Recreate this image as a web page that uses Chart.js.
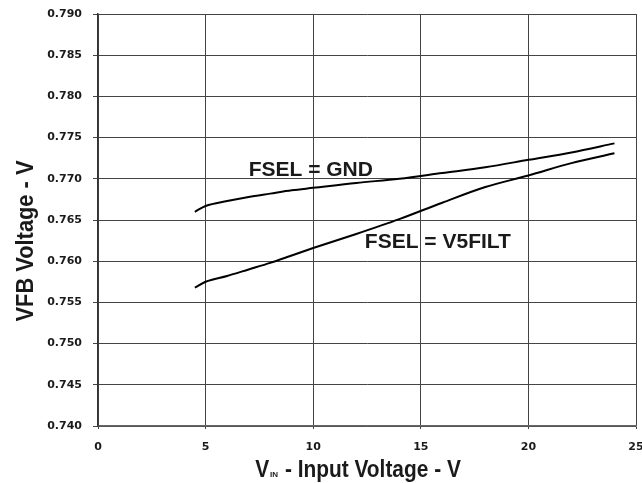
<!DOCTYPE html>
<html>
<head>
<meta charset="utf-8">
<script src="https://cdn.jsdelivr.net/npm/chart.js@4/dist/chart.umd.min.js"></script>
<style>
  html, body { margin: 0; padding: 0; background: #fff; }
  #wrap { width: 642px; height: 483px; }
</style>
</head>
<body>
<div id="wrap"><canvas id="vfbChart" width="642" height="483"></canvas></div>
<script>
// input voltage (V)
const vin = [4.5, 5, 6, 7, 8, 9, 10, 12, 14, 16, 18, 20, 22, 24];
// VFB voltage, FSEL tied to GND
const vfbGnd = [0.7660, 0.7667, 0.7673, 0.7678, 0.7682, 0.7686, 0.7689, 0.7695, 0.7700, 0.7707, 0.7714, 0.7723, 0.7732, 0.7743];
// VFB voltage, FSEL tied to V5FILT
const vfbV5 = [0.7568, 0.7575, 0.7582, 0.7590, 0.7598, 0.7607, 0.7616, 0.7633, 0.7651, 0.7671, 0.7690, 0.7704, 0.7719, 0.7731];

// curve labels, left edge / baseline in data units
const curveLabels = [
  { text: 'FSEL = GND', x: 7.0, y: 0.77034 },
  { text: 'FSEL = V5FILT', x: 12.4, y: 0.76157 }
];

const SANS = '"Liberation Sans", Arial, sans-serif';
const TICK_FONT = { family: '"DejaVu Sans", sans-serif', size: 11, weight: 'bold' };

const toPoints = (xs, ys) => xs.map((x, i) => ({ x, y: ys[i] }));

// text drawn with an optional horizontal squeeze
function squeezed(g, text, x, y, size, sx) {
  g.save();
  g.translate(x, y);
  g.scale(sx, 1);
  g.font = 'bold ' + size + 'px ' + SANS;
  g.fillText(text, 0, 0);
  const w = g.measureText(text).width * sx;
  g.restore();
  return w;
}

const annotate = {
  id: 'annotate',
  afterDraw(c) {
    const g = c.ctx;
    const xs = c.scales.x, ys = c.scales.y;
    const area = c.chartArea;
    g.save();
    g.fillStyle = '#1a1a1a';
    g.textAlign = 'left';
    g.textBaseline = 'alphabetic';

    curveLabels.forEach(l => {
      squeezed(g, l.text, xs.getPixelForValue(l.x), ys.getPixelForValue(l.y), 21, 1);
    });

    // x title: V_IN - Input Voltage - V
    const sx = 0.87, size = 24;
    const rest = ' - Input Voltage - V';
    g.font = 'bold ' + size + 'px ' + SANS;
    const wV = g.measureText('V').width * sx;
    const wRest = g.measureText(rest).width * sx;
    g.font = 'bold 8px ' + SANS;
    const wSub = g.measureText('IN').width + 2;
    let px = (area.left + area.right) / 2 - 9 - (wV + wSub + wRest) / 2;
    const base = 477;
    px += squeezed(g, 'V', px, base, size, sx);
    g.font = 'bold 8px ' + SANS;
    g.fillText('IN', px + 1, base);
    px += wSub;
    squeezed(g, rest, px, base, size, sx);

    // y title, rotated
    g.save();
    g.translate(33, 241);
    g.rotate(-Math.PI / 2);
    g.font = 'bold 24px ' + SANS;
    const yt = 'VFB Voltage - V';
    const w = g.measureText(yt).width * 0.91;
    squeezed(g, yt, -w / 2, 0, 24, 0.91);
    g.restore();

    g.restore();
  }
};

new Chart(document.getElementById('vfbChart').getContext('2d'), {
  type: 'line',
  data: {
    datasets: [
      {
        label: 'FSEL = GND',
        data: toPoints(vin, vfbGnd),
        borderColor: '#000',
        borderWidth: 2,
        pointRadius: 0,
        cubicInterpolationMode: 'monotone',
        fill: false
      },
      {
        label: 'FSEL = V5FILT',
        data: toPoints(vin, vfbV5),
        borderColor: '#000',
        borderWidth: 2,
        pointRadius: 0,
        cubicInterpolationMode: 'monotone',
        fill: false
      }
    ]
  },
  options: {
    responsive: false,
    animation: false,
    layout: { padding: { top: 14, right: 6, left: 0, bottom: 0 } },
    plugins: {
      legend: { display: false },
      tooltip: { enabled: false }
    },
    scales: {
      x: {
        type: 'linear',
        min: 0,
        max: 25,
        afterFit: s => { s.height = 57; s.paddingRight = 0; s.paddingLeft = 0; },
        ticks: {
          stepSize: 5,
          color: '#1a1a1a',
          padding: 12,
          font: TICK_FONT
        },
        grid: { color: '#444', lineWidth: 1, tickLength: 3 },
        border: { color: '#666', width: 1.5 }
      },
      y: {
        min: 0.74,
        max: 0.79,
        afterFit: s => { s.width = 98; s.paddingTop = 0; s.paddingBottom = 0; },
        ticks: {
          stepSize: 0.005,
          color: '#1a1a1a',
          padding: 11,
          font: TICK_FONT,
          callback: v => v.toFixed(3)
        },
        grid: { color: '#444', lineWidth: 1, tickLength: 5 },
        border: { color: '#333', width: 1.5 }
      }
    }
  },
  plugins: [annotate]
});
</script>
</body>
</html>
